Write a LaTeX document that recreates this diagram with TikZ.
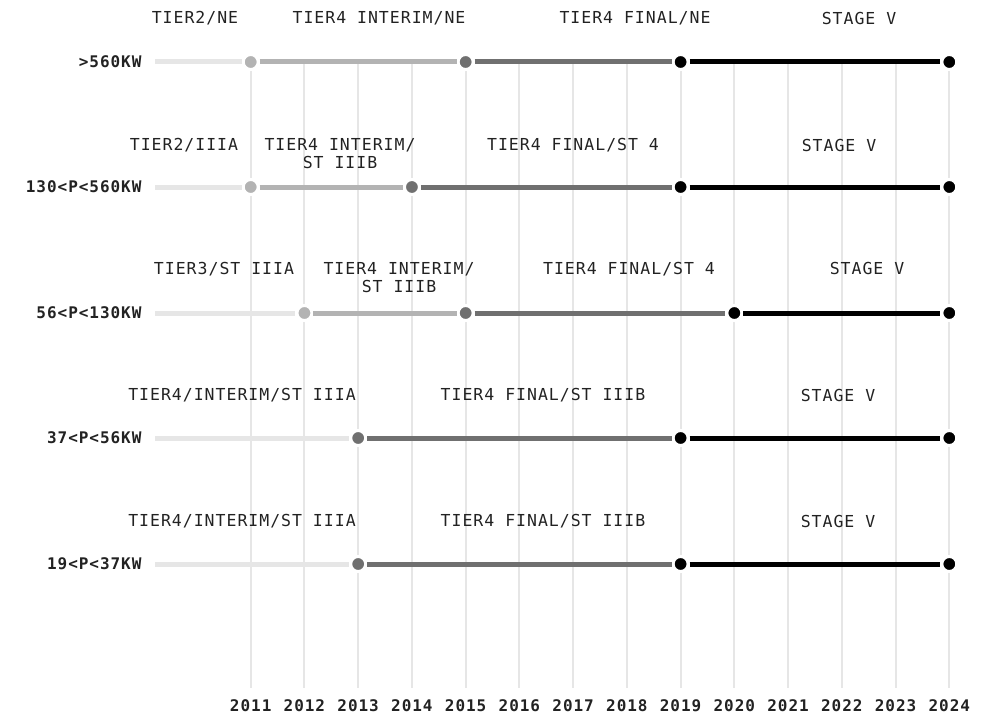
\documentclass[tikz,border=0pt]{standalone}
\usepackage{fontspec}
\setmonofont[LetterSpace=6]{DejaVu Sans Mono}
\definecolor{gridgray}{HTML}{E6E6E6}
\definecolor{lightseg}{HTML}{E6E6E6}
\definecolor{midseg}{HTML}{B3B3B3}
\definecolor{darkseg}{HTML}{707070}
\definecolor{blackseg}{HTML}{000000}
\definecolor{labeltext}{HTML}{222222}
\begin{document}
\begin{tikzpicture}[x=1pt, y=-1pt,
    gridline/.style={draw=gridgray, line width=2pt},
    segline/.style={draw=#1, line width=5pt},
    dotstyle/.style={circle, fill=#1, draw=white, line width=3pt, minimum size=15pt, inner sep=0pt},
    stagelabel/.style={font=\ttfamily\fontsize{16.5}{18}\selectfont, text=labeltext, align=center},
    rowlabel/.style={font=\ttfamily\bfseries\fontsize{16}{18}\selectfont, text=labeltext, anchor=east},
    yearlabel/.style={font=\ttfamily\bfseries\fontsize{16}{18}\selectfont, text=labeltext}]
    \useasboundingbox (0,0) rectangle (989,717);
    % Year grid and axis labels
    \foreach \yr in {2011, ..., 2024}{
        \coordinate (gt\yr) at ({250.7+(\yr-2011)*53.74},62);
        \coordinate (gb\yr) at ({250.7+(\yr-2011)*53.74},688);
        \node[yearlabel] (yl\yr) at ({250.7+(\yr-2011)*53.74},706) {\yr};
        \draw[gridline] (gt\yr) -- (gb\yr);
    }
    % Row labels and line starts
    \foreach \r/\yy/\txt in {1/62/{>560KW}, 2/187/{130<P<560KW}, 3/313/{56<P<130KW}, 4/438/{37<P<56KW}, 5/564/{19<P<37KW}}{
        \node[rowlabel] (rl\r) at (145,\yy) {\txt};
        \coordinate (s\r) at (155,\yy);
    }
    %%%
    % >560KW
    \foreach \yr/\c in {2011/midseg, 2015/darkseg, 2019/blackseg, 2024/blackseg}
        \node[dotstyle=\c] (a\yr) at ({250.7+(\yr-2011)*53.74},62) {};
    \draw[segline=lightseg] (s1) -- (a2011);
    \draw[segline=midseg] (a2011) -- (a2015);
    \draw[segline=darkseg] (a2015) -- (a2019);
    \draw[segline=blackseg] (a2019) -- (a2024);
    \node[stagelabel] (a1t) at (195,18) {TIER2/NE};
    \node[stagelabel] (a2t) at (379,18) {TIER4 INTERIM/NE};
    \node[stagelabel] (a3t) at (635,18) {TIER4 FINAL/NE};
    \node[stagelabel] (a4t) at (859,18) {STAGE V};
    %%%
    % 130<P<560KW
    \foreach \yr/\c in {2011/midseg, 2014/darkseg, 2019/blackseg, 2024/blackseg}
        \node[dotstyle=\c] (b\yr) at ({250.7+(\yr-2011)*53.74},187) {};
    \draw[segline=lightseg] (s2) -- (b2011);
    \draw[segline=midseg] (b2011) -- (b2014);
    \draw[segline=darkseg] (b2014) -- (b2019);
    \draw[segline=blackseg] (b2019) -- (b2024);
    \node[stagelabel] (b1t) at (184,145) {TIER2/IIIA};
    \node[stagelabel] (b2t) at (340,154) {TIER4 INTERIM/\\ST IIIB};
    \node[stagelabel] (b3t) at (573,145) {TIER4 FINAL/ST 4};
    \node[stagelabel] (b4t) at (839,145) {STAGE V};
    %%%
    % 56<P<130KW
    \foreach \yr/\c in {2012/midseg, 2015/darkseg, 2020/blackseg, 2024/blackseg}
        \node[dotstyle=\c] (c\yr) at ({250.7+(\yr-2011)*53.74},313) {};
    \draw[segline=lightseg] (s3) -- (c2012);
    \draw[segline=midseg] (c2012) -- (c2015);
    \draw[segline=darkseg] (c2015) -- (c2020);
    \draw[segline=blackseg] (c2020) -- (c2024);
    \node[stagelabel] (c1t) at (224,269) {TIER3/ST IIIA};
    \node[stagelabel] (c2t) at (399,278) {TIER4 INTERIM/\\ST IIIB};
    \node[stagelabel] (c3t) at (629,269) {TIER4 FINAL/ST 4};
    \node[stagelabel] (c4t) at (867,268) {STAGE V};
    %%%
    % 37<P<56KW
    \foreach \yr/\c in {2013/darkseg, 2019/blackseg, 2024/blackseg}
        \node[dotstyle=\c] (d\yr) at ({250.7+(\yr-2011)*53.74},438) {};
    \draw[segline=lightseg] (s4) -- (d2013);
    \draw[segline=darkseg] (d2013) -- (d2019);
    \draw[segline=blackseg] (d2019) -- (d2024);
    \node[stagelabel] (d1t) at (242,395) {TIER4/INTERIM/ST IIIA};
    \node[stagelabel] (d2t) at (543,395) {TIER4 FINAL/ST IIIB};
    \node[stagelabel] (d3t) at (838,395) {STAGE V};
    %%%
    % 19<P<37KW
    \foreach \yr/\c in {2013/darkseg, 2019/blackseg, 2024/blackseg}
        \node[dotstyle=\c] (e\yr) at ({250.7+(\yr-2011)*53.74},564) {};
    \draw[segline=lightseg] (s5) -- (e2013);
    \draw[segline=darkseg] (e2013) -- (e2019);
    \draw[segline=blackseg] (e2019) -- (e2024);
    \node[stagelabel] (e1t) at (242,521) {TIER4/INTERIM/ST IIIA};
    \node[stagelabel] (e2t) at (543,521) {TIER4 FINAL/ST IIIB};
    \node[stagelabel] (e3t) at (838,521) {STAGE V};
    %%%
\end{tikzpicture}
\end{document}
